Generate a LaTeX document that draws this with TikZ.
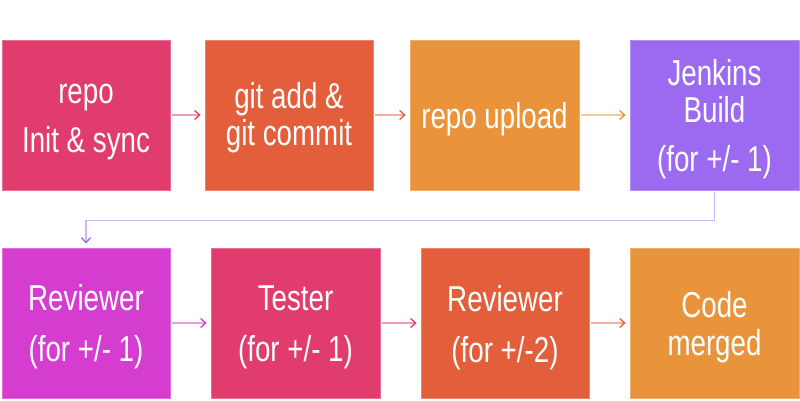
\documentclass[tikz,border=0pt]{standalone}
\usepackage{fontspec}
\setmainfont{Liberation Sans}[FakeStretch=0.77]
\usetikzlibrary{arrows.meta}
\definecolor{cpink}{HTML}{E13C6E}
\definecolor{cred}{HTML}{E35E3B}
\definecolor{corange}{HTML}{E9943A}
\definecolor{cpurple}{HTML}{9B6AF0}
\definecolor{cmag}{HTML}{D43DCF}
\tikzset{
  box/.style={draw=#1!75!white, line width=0.8pt, fill=#1, minimum width=168pt, minimum height=150pt, inner sep=0pt},
  lbl/.style={anchor=base, text=white, inner sep=0pt, font=\fontsize{36pt}{42pt}\selectfont},
  conn/.style={draw=#1!50!white, line width=1.5pt, shorten <=2pt, shorten >=4pt,
    -{Straight Barb[length=5pt, width=9pt, line width=1.3pt, color=#1]}},
}
\begin{document}
\begin{tikzpicture}[x=1pt,y=-1pt]
\useasboundingbox[fill=white] (0,0) rectangle (800,400);
% boxes row 1
\node[box=cpink] (b1) at (86,115) {};
\node[box=cred] (b2) at (289,115) {};
\node[box=corange, minimum width=169pt] (b3) at (494.5,115) {};
\node[box=cpurple, minimum width=169pt] (b4) at (714.5,115) {};
% boxes row 2
\node[box=cmag] (b5) at (86,323) {};
\node[box=cpink, minimum width=169pt] (b6) at (295.5,323) {};
\node[box=cred] (b7) at (505,323) {};
\node[box=corange, minimum width=169pt] (b8) at (714.5,323) {};
% labels
\node[lbl] (t1a) at (86,103) {repo};
\node[lbl] (t1b) at (86,152) {Init \& sync};
\node[lbl] (t2a) at (289,108) {git add \&};
\node[lbl] (t2b) at (289,145) {git commit};
\node[lbl] (t3a) at (494.5,128) {repo upload};
\node[lbl] (t4a) at (714.5,85) {Jenkins};
\node[lbl] (t4b) at (714.5,122) {Build};
\node[lbl] (t4c) at (714.5,171) {(for +/- 1)};
\node[lbl] (t5a) at (86,310) {Reviewer};
\node[lbl] (t5b) at (86,361) {(for +/- 1)};
\node[lbl] (t6a) at (295.5,310) {Tester};
\node[lbl] (t6b) at (295.5,361) {(for +/- 1)};
\node[lbl] (t7a) at (505,311) {Reviewer};
\node[lbl] (t7b) at (505,362) {(for +/-2)};
\node[lbl] (t8a) at (714.5,317) {Code};
\node[lbl] (t8b) at (714.5,355) {merged};
% connectors
\draw[conn=cpink] (b1) -- (b2);
\draw[conn=cred] (b2) -- (b3);
\draw[conn=corange] (b3) -- (b4);
\draw[conn=cpurple] (b4.south) -- ++(0,30) -| (b5.north);
\draw[conn=cmag] (b5) -- (b6);
\draw[conn=cpink] (b6) -- (b7);
\draw[conn=cred] (b7) -- (b8);
\end{tikzpicture}
\end{document}
